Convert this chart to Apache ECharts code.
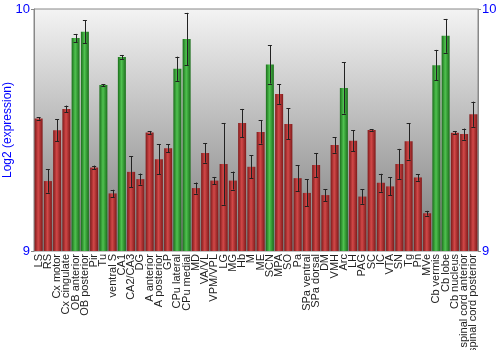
<!DOCTYPE html>
<html><head><meta charset="utf-8">
<script src="https://cdn.jsdelivr.net/npm/echarts@6/dist/echarts.min.js"></script>
<style>html,body{margin:0;padding:0;background:#fff}#c{width:500px;height:350px}</style>
</head><body><div id="c"></div>
<script>
var categories = ["LS","RS","Cx motor","Cx cingulate","OB anterior","OB posterior","Pir","Tu","ventral S","CA1","CA2/CA3","DG","A anterior","A posterior","GP","CPu lateral","CPu medial","MD","VA/VL","VPM/VPL","LG","MG","Hb","M","ME","SCN","MPA","SO","Pa","SPa ventral","SPa dorsal","DM","VMH","Arc","LH","PAG","SC","IC","VTA","SN","Tg","Pn","MVe","Cb vermis","Cb lobe","Cb nucleus","spinal cord anterior","spinal cord posterior"];
var values = [9.548,9.289,9.499,9.587,9.880,9.906,9.345,9.686,9.238,9.802,9.327,9.297,9.490,9.379,9.425,9.753,9.876,9.260,9.405,9.291,9.360,9.291,9.529,9.348,9.492,9.771,9.649,9.525,9.301,9.240,9.355,9.231,9.438,9.674,9.456,9.225,9.500,9.282,9.267,9.360,9.453,9.304,9.156,9.768,9.889,9.489,9.483,9.565];
var errors = [0.005,0.048,0.045,0.014,0.017,0.047,0.008,0.004,0.015,0.008,0.064,0.023,0.006,0.062,0.016,0.050,0.108,0.023,0.040,0.015,0.169,0.037,0.058,0.048,0.048,0.079,0.041,0.064,0.053,0.056,0.050,0.025,0.032,0.106,0.043,0.030,0.003,0.037,0.037,0.062,0.075,0.014,0.010,0.063,0.070,0.007,0.023,0.052];
var greenGroup = [0,0,0,0,1,1,0,1,0,1,0,0,0,0,0,1,1,0,0,0,0,0,0,0,0,1,0,0,0,0,0,0,0,1,0,0,0,0,0,0,0,0,0,1,1,0,0,0];
var yTicks = [9, 10];

var G = echarts.graphic.LinearGradient;
var redFill = new G(0,0,1,0,[{offset:0,color:'#7f1a1a'},{offset:0.45,color:'#d24848'},{offset:1,color:'#7f1a1a'}]);
var greenFill = new G(0,0,1,0,[{offset:0,color:'#1b6e1b'},{offset:0.45,color:'#4fc24f'},{offset:1,color:'#1b6e1b'}]);

var barData = values.map(function(v,i){
  return {value:v, itemStyle:{color: greenGroup[i] ? greenFill : redFill}};
});
var errData = values.map(function(v,i){ return [i, v - errors[i], v + errors[i]]; });

var chart = echarts.init(document.getElementById('c'), null, {renderer:'canvas'});
var font = 'Liberation Sans, Arial, sans-serif';
chart.setOption({
  animation:false,
  grid:{left:34,right:22,top:9,bottom:99,show:true,borderColor:'#888',borderWidth:1,
    outerBoundsMode:'none',containLabel:false,
    backgroundColor:new G(0,0,0,1,[{offset:0,color:'#f4f4f4'},{offset:1,color:'#7a7a7a'}])},
  xAxis:{type:'category',data:categories,
    axisLine:{show:false},axisTick:{show:false},
    axisLabel:{interval:0,rotate:90,fontSize:11,color:'#222',fontFamily:font,margin:3}},
  yAxis:[{type:'value',min:yTicks[0],max:yTicks[1],interval:1,
    name:'Log2 (expression)',nameLocation:'middle',nameGap:20,nameMoveOverlap:false,
    nameTextStyle:{color:'#0000ff',fontSize:12,fontFamily:font},
    axisLine:{show:true,lineStyle:{color:'#888'}},axisTick:{show:true,length:3,lineStyle:{color:'#888'}},
    axisLabel:{color:'#0000ff',fontSize:13,fontFamily:font,margin:4},splitLine:{show:false}},
   {type:'value',min:yTicks[0],max:yTicks[1],interval:1,position:'right',
    axisLine:{show:true,lineStyle:{color:'#888'}},axisTick:{show:true,length:3,lineStyle:{color:'#888'}},
    axisLabel:{color:'#0000ff',fontSize:13,fontFamily:font,margin:4},splitLine:{show:false}}],
  series:[
    {type:'bar',data:barData,barWidth:8},
    {type:'custom',data:errData,z:10,
     renderItem:function(params,api){
       var x=api.value(0);
       var lo=api.coord([x,api.value(1)]);
       var hi=api.coord([x,api.value(2)]);
       var w=2;
       var st={stroke:'#222',lineWidth:1};
       return {type:'group',children:[
         {type:'line',shape:{x1:Math.round(lo[0])+0.5,y1:lo[1],x2:Math.round(lo[0])+0.5,y2:hi[1]},style:st},
         {type:'line',shape:{x1:lo[0]-w,y1:Math.round(lo[1])+0.5,x2:lo[0]+w,y2:Math.round(lo[1])+0.5},style:st},
         {type:'line',shape:{x1:hi[0]-w,y1:Math.round(hi[1])+0.5,x2:hi[0]+w,y2:Math.round(hi[1])+0.5},style:st}
       ]};
     }}
  ]
});
</script></body></html>
